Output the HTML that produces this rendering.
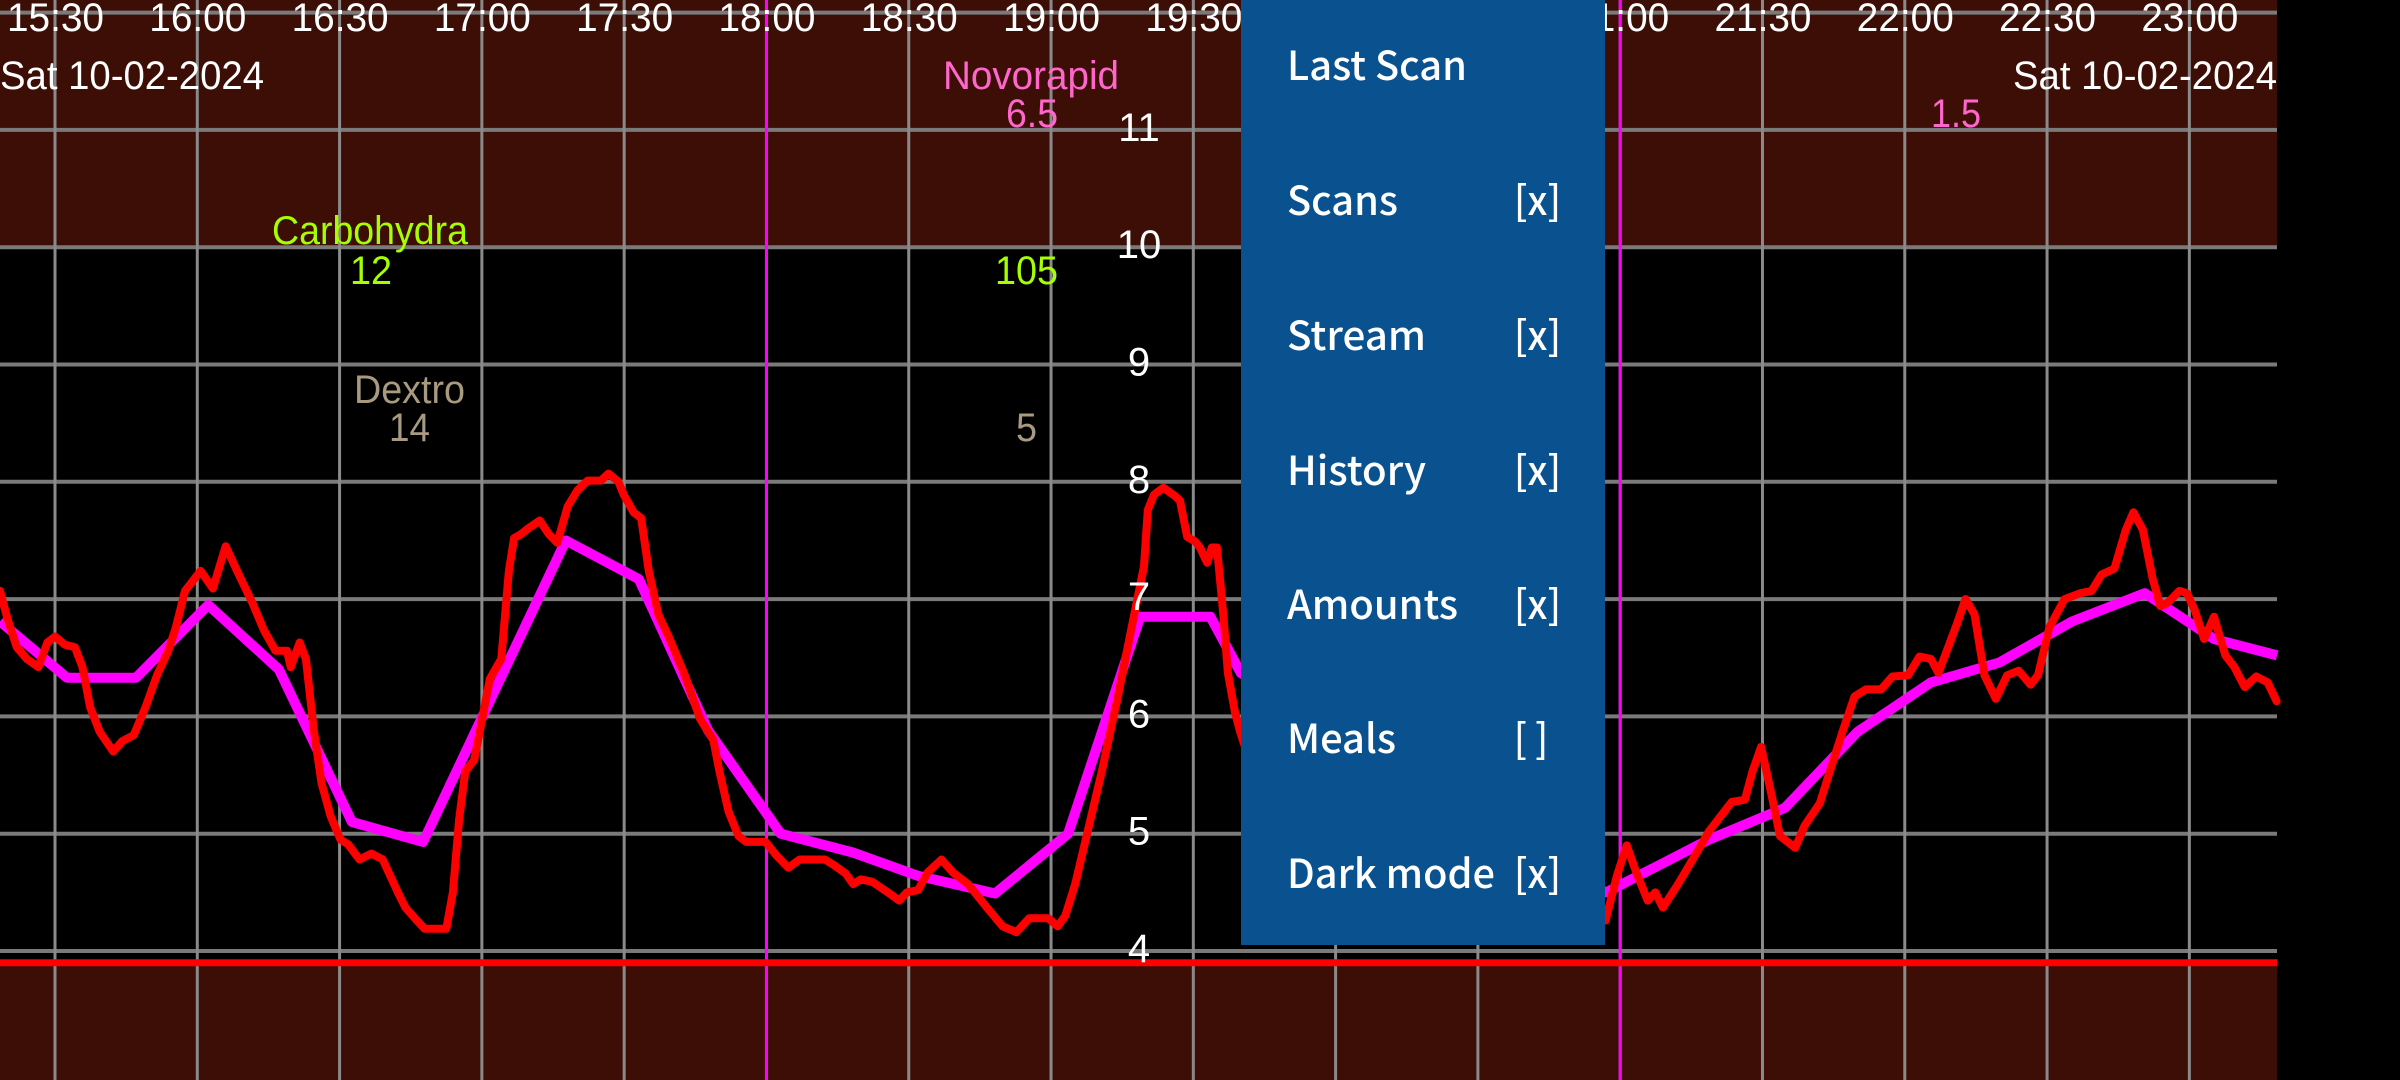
<!DOCTYPE html>
<html><head><meta charset="utf-8"><style>
html,body{margin:0;padding:0;background:#000;width:2400px;height:1080px;overflow:hidden}
svg{display:block}
.cn{font-family:"Liberation Sans Narrow","Liberation Sans",sans-serif}
.mn{font-family:"Noto Sans CJK JP","Liberation Sans",sans-serif;font-weight:500;fill:#fff;font-size:40px}
</style></head><body>
<svg id="chart" width="2400" height="1080" xmlns="http://www.w3.org/2000/svg">
<rect x="0" y="0" width="2400" height="1080" fill="#000"/>
<g id="bands"></g><g id="grid"></g><g id="series"></g><g id="labels"></g>
<g>
<rect x="1241" y="0" width="364" height="945" fill="#0a528f"/>
<text class="mn" x="1287" y="80" textLength="180" lengthAdjust="spacingAndGlyphs">Last Scan</text>
<text class="mn" x="1287" y="215" textLength="111" lengthAdjust="spacingAndGlyphs">Scans</text>
<text class="mn" x="1514" y="215" textLength="47" lengthAdjust="spacingAndGlyphs">[x]</text>
<text class="mn" x="1287" y="350" textLength="139" lengthAdjust="spacingAndGlyphs">Stream</text>
<text class="mn" x="1514" y="350" textLength="47" lengthAdjust="spacingAndGlyphs">[x]</text>
<text class="mn" x="1287" y="485" textLength="139" lengthAdjust="spacingAndGlyphs">History</text>
<text class="mn" x="1514" y="485" textLength="47" lengthAdjust="spacingAndGlyphs">[x]</text>
<text class="mn" x="1287" y="619" textLength="171" lengthAdjust="spacingAndGlyphs">Amounts</text>
<text class="mn" x="1514" y="619" textLength="47" lengthAdjust="spacingAndGlyphs">[x]</text>
<text class="mn" x="1287" y="753" textLength="109" lengthAdjust="spacingAndGlyphs">Meals</text>
<text class="mn" x="1514" y="753" textLength="34" lengthAdjust="spacingAndGlyphs">[ ]</text>
<text class="mn" x="1287" y="888" textLength="208" lengthAdjust="spacingAndGlyphs">Dark mode</text>
<text class="mn" x="1514" y="888" textLength="47" lengthAdjust="spacingAndGlyphs">[x]</text>
</g>
</svg>
<script>
const xTickLabels=["15:30","16:00","16:30","17:00","17:30","18:00","18:30","19:00","19:30","20:00","20:30","21:00","21:30","22:00","22:30","23:00"];
const yTicks=[4,5,6,7,8,9,10,11,12];
const yTickLabels=["4","5","6","7","8","9","10","11"];
const insulinMarks=[150,330];
const historyT=[-11.6,2.5,17.1,32.3,47.2,62.6,77.6,107.7,123.1,137.7,153,168.2,182,198.2,213.6,228.8,243.6,250,290,327,348.7,364.7,380.1,395.5,410,425.3,440.6,455.2,468.5];
const historyV=[6.81,6.33,6.33,6.95,6.40,5.10,4.93,7.50,7.17,5.88,5.00,4.84,4.64,4.49,5.00,6.85,6.85,6.37,5.3,4.50,4.95,5.22,5.87,6.29,6.46,6.81,7.05,6.66,6.52];
const streamT=[-11.6,-10,-8.05,-5.95,-3.5,-1.6,0,2.1,4.2,5.8,7.4,9.4,12.3,14.2,16.6,19.1,21.5,23.9,25.5,27.4,30.7,33.3,36,38.4,41.6,44.1,46.5,48.9,49.7,51.6,52.9,54.6,56.2,58.1,60.2,61.8,64.2,66.7,69.1,70.7,72.3,73.9,76.3,77.9,82.5,83.9,85.2,86.5,88.4,90.4,91.7,94.1,95.7,96.8,98.1,99.7,102.2,104.2,105.9,108.1,110.2,112.3,115.1,116.7,118.8,119.9,122,123.6,125.2,127.2,129.6,132.8,136,138.8,140.1,142,144.1,145.7,149.8,152.2,154.6,157,162.3,164.3,166.7,168.3,169.9,172.3,175.6,178,179.6,182,184,186.9,189.3,192.5,196.5,199.8,202.7,205.4,209.4,211.4,213,215.1,217.5,220.7,224,227.2,229.6,230.4,231.7,233.7,236.1,237.2,238.7,240.4,241.4,242.9,243.9,245,246.3,247.3,248.8,249.8,252,290,324,326.9,329.3,331.4,333.4,335.8,337.4,339,342.2,346.3,348.7,353.5,356.3,357.9,359.7,361.6,363.7,366.9,368.9,372.1,374.5,376.9,379.4,381.8,385,387.4,390.7,393.1,395.5,397.1,398.7,401.1,402.8,404.7,406.8,409.2,411.6,414,416.5,418.1,420.5,423.7,427,429.4,431.5,434.2,436.6,438.2,440.2,442.3,443.9,445.5,447.9,449.5,451.2,453.1,455.2,457.6,459.5,461.7,464.1,466.5,468.4];
const streamV=[7.07,6.83,6.59,6.49,6.42,6.63,6.68,6.61,6.59,6.42,6.08,5.87,5.70,5.79,5.84,6.08,6.35,6.56,6.76,7.07,7.24,7.09,7.45,7.24,6.97,6.73,6.56,6.56,6.42,6.63,6.49,5.87,5.43,5.15,4.95,4.91,4.78,4.83,4.78,4.64,4.50,4.37,4.26,4.19,4.19,4.50,5.12,5.53,5.63,6.05,6.32,6.49,7.24,7.52,7.55,7.60,7.67,7.55,7.48,7.79,7.93,8.01,8.01,8.07,8.00,7.89,7.74,7.69,7.24,6.87,6.66,6.35,5.98,5.80,5.53,5.19,4.98,4.93,4.93,4.81,4.71,4.78,4.78,4.73,4.66,4.57,4.61,4.59,4.50,4.43,4.50,4.52,4.67,4.78,4.67,4.57,4.37,4.21,4.16,4.28,4.28,4.21,4.30,4.57,4.98,5.53,6.15,6.80,7.28,7.76,7.89,7.95,7.88,7.84,7.53,7.49,7.44,7.31,7.44,7.44,6.88,6.37,6.03,5.88,5.6,4.6,4.25,4.26,4.64,4.90,4.67,4.43,4.50,4.37,4.57,4.85,5.02,5.27,5.29,5.53,5.74,5.39,4.98,4.88,5.07,5.26,5.57,5.87,6.17,6.23,6.23,6.34,6.35,6.51,6.49,6.37,6.54,6.80,7.00,6.87,6.35,6.15,6.35,6.39,6.27,6.35,6.76,7.00,7.05,7.07,7.21,7.26,7.59,7.74,7.59,7.17,6.94,6.97,7.07,7.05,6.90,6.66,6.85,6.52,6.42,6.25,6.34,6.29,6.13];
const lowLimit=3.9, highLimit=10;
const NS="http://www.w3.org/2000/svg";
const W=2277;
const xs=m=>55+m*4.743;
const ys=v=>951-(v-4)*117.3;
function mk(tag,attrs,parent){const e=document.createElementNS(NS,tag);for(const k in attrs)e.setAttribute(k,attrs[k]);document.getElementById(parent).appendChild(e);return e;}
let e;
e=mk("rect",{x:0,y:0,width:W,height:ys(highLimit),fill:"#3d0e06"},"bands");


e=mk("rect",{x:0,y:ys(lowLimit),width:W,height:1080-ys(lowLimit),fill:"#3d0e06"},"bands");


yTicks.forEach(v=>{e=mk("line",{x1:0,x2:W,y1:ys(v),y2:ys(v),stroke:"#7a7a7a","stroke-width":4},"grid");

});
xTickLabels.forEach((l,i)=>{const x=xs(i*30);
e=mk("line",{x1:x,x2:x,y1:0,y2:1080,stroke:"#8a8a8a","stroke-width":3},"grid");

});
insulinMarks.forEach(m=>{e=mk("line",{x1:xs(m),x2:xs(m),y1:0,y2:1080,stroke:"#ff00ff","stroke-width":3},"grid");

});
e=mk("line",{x1:0,x2:W,y1:ys(lowLimit),y2:ys(lowLimit),stroke:"#ff0000","stroke-width":7},"grid");


function pts(T,V){return T.map((t,i)=>xs(t).toFixed(1)+","+ys(V[i]).toFixed(1)).join(" ");}
e=mk("polyline",{points:pts(historyT,historyV),fill:"none",stroke:"#ff00ff","stroke-width":10,"stroke-linejoin":"round"},"series");


e=mk("polyline",{points:pts(streamT,streamV),fill:"none",stroke:"#ff0000","stroke-width":8,"stroke-linejoin":"round","stroke-linecap":"round"},"series");


function txt(s,a,name){const t=mk("text",a,"labels");t.textContent=s;t.setAttribute("class","cn");

return t;}
xTickLabels.forEach((l,i)=>{txt(l,{x:xs(i*30)-48,y:31,"font-size":40,fill:"#fff",textLength:97,lengthAdjust:"spacingAndGlyphs"},"x-tick-label");});
yTickLabels.forEach(l=>{const v=+l;txt(l,{x:1139,y:ys(v)+11,"font-size":40,fill:"#fff","text-anchor":"middle"},"y-tick-label");});
txt("Sat 10-02-2024",{x:0,y:89,"font-size":40,fill:"#fff",textLength:264,lengthAdjust:"spacingAndGlyphs"},"start-date");
txt("Sat 10-02-2024",{x:2013,y:89,"font-size":40,fill:"#fff",textLength:264,lengthAdjust:"spacingAndGlyphs"},"end-date");
txt("Novorapid",{x:943,y:89,"font-size":40,fill:"#ff66cc",textLength:176,lengthAdjust:"spacingAndGlyphs"},"insulin-label");
txt("6.5",{x:1006,y:127,"font-size":40,fill:"#ff66cc",textLength:52,lengthAdjust:"spacingAndGlyphs"},"insulin-amount");
txt("1.5",{x:1931,y:127,"font-size":40,fill:"#ff66cc",textLength:50,lengthAdjust:"spacingAndGlyphs"},"insulin-amount");
txt("Carbohydra",{x:272,y:244,"font-size":40,fill:"#a6ff00",textLength:196,lengthAdjust:"spacingAndGlyphs"},"carb-label");
txt("12",{x:350,y:284,"font-size":40,fill:"#a6ff00",textLength:42,lengthAdjust:"spacingAndGlyphs"},"carb-amount");
txt("105",{x:995,y:284,"font-size":40,fill:"#a6ff00",textLength:63,lengthAdjust:"spacingAndGlyphs"},"carb-amount");
txt("Dextro",{x:354,y:403,"font-size":40,fill:"#a89a80",textLength:111,lengthAdjust:"spacingAndGlyphs"},"dextro-label");
txt("14",{x:389,y:441,"font-size":40,fill:"#a89a80",textLength:41,lengthAdjust:"spacingAndGlyphs"},"dextro-amount");
txt("5",{x:1016,y:441,"font-size":40,fill:"#a89a80",textLength:21,lengthAdjust:"spacingAndGlyphs"},"dextro-amount");
</script>
</body></html>
